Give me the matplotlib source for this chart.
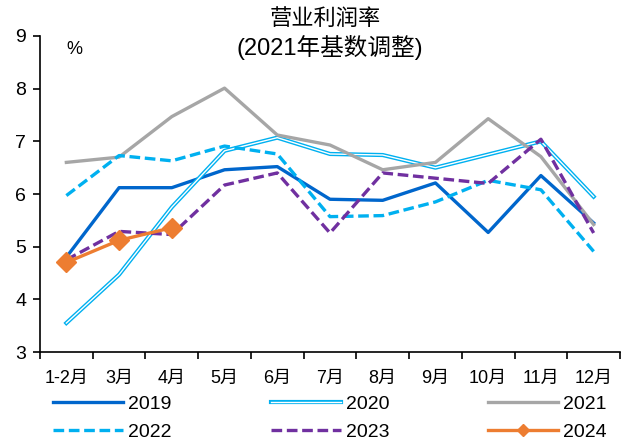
import numpy as np
import matplotlib
matplotlib.use("Agg")
import matplotlib.pyplot as plt
import matplotlib.patheffects as pe

plt.rcParams['font.family'] = ['Liberation Sans', 'Noto Sans CJK SC', 'DejaVu Sans']

# Data
months = ['1-2月', '3月', '4月', '5月', '6月', '7月', '8月', '9月', '10月', '11月', '12月']
y2019 = [4.80, 6.12, 6.12, 6.46, 6.52, 5.90, 5.88, 6.21, 5.27, 6.35, 5.45]
y2020 = [3.55, 4.47, 5.75, 6.82, 7.07, 6.76, 6.74, 6.50, 6.75, 7.00, 5.95]
y2021 = [6.60, 6.70, 7.47, 8.01, 7.12, 6.93, 6.46, 6.60, 7.43, 6.71, 5.42]
y2022 = [5.97, 6.73, 6.63, 6.91, 6.76, 5.57, 5.59, 5.85, 6.26, 6.08, 4.91]
y2023 = [4.75, 5.29, 5.23, 6.17, 6.40, 5.26, 6.40, 6.30, 6.20, 7.04, 5.26]
y2024 = [4.70, 5.12, 5.36]

x = np.arange(len(months))

fig = plt.figure(figsize=(6.22, 4.48), dpi=100)
ax = fig.add_axes([40/622, 1-352/448, 580/622, 316/448])

dash = (0, (3.2, 1.4))
l19, = ax.plot(x, y2019, color='#0066cc', lw=2.4, label='2019')
l20, = ax.plot(x, y2020, color='white', lw=1.0, label='2020',
               path_effects=[pe.Stroke(linewidth=3.0, foreground='#00b0f0'), pe.Normal()])
l21, = ax.plot(x, y2021, color='#a6a6a6', lw=2.4, label='2021')
l22, = ax.plot(x, y2022, color='#00b0f0', lw=2.4, ls=dash, label='2022')
l23, = ax.plot(x, y2023, color='#7030a0', lw=2.4, ls=dash, label='2023')
l24, = ax.plot(x[:len(y2024)], y2024, color='#ed7d31', lw=2.4, marker='D',
               markersize=10.5, label='2024')

ax.set_xlim(-0.5, len(months) - 0.5)
ax.set_ylim(3, 9)
ax.set_yticks(range(3, 10))
ax.set_xticks(np.arange(-0.5, len(months)), labels=[])
ax.set_xticks(x, labels=months, minor=True)
ax.tick_params(axis='x', which='major', length=5, width=1.2, direction='out')
ax.tick_params(axis='x', which='minor', length=0, pad=13, labelsize=13)
ax.tick_params(axis='y', length=5, width=1.2, direction='out', pad=5, labelsize=14)
for s in ['top', 'right']:
    ax.spines[s].set_visible(False)
for s in ['left', 'bottom']:
    ax.spines[s].set_linewidth(1.2)

ax.text(0.045, 0.985, '%', transform=ax.transAxes, fontsize=13, va='top', ha='left')

fig.text(325/622, 1-19/448, '营业利润率', ha='center', va='center', fontsize=16)
fig.text(330/622, 1-47/448, '(2021年基数调整)', ha='center', va='center', fontsize=17)

handles = [l19, l22, l20, l23, l21, l24]
leg = fig.legend(handles=handles, labels=[h.get_label() for h in handles], ncol=3,
                 loc='center', bbox_to_anchor=(330/622, 1-418/448), frameon=False,
                 fontsize=14, handlelength=3.6, handletextpad=0.26, columnspacing=5.1,
                 labelspacing=0.55, borderpad=0)
leg.legend_handles[5].set_markersize(6)

fig.savefig('out.png', dpi=100)
